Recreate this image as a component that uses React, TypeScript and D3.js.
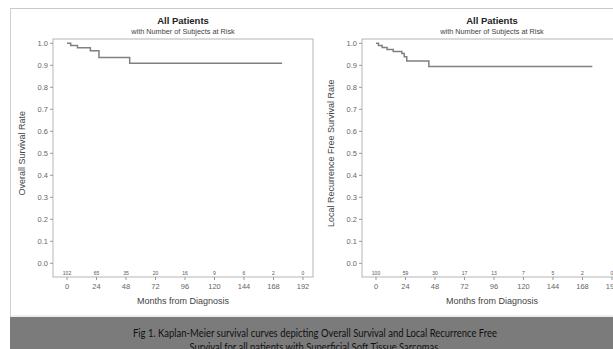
import React from "react";
import * as d3 from "d3";

const xTicks = [0, 24, 48, 72, 96, 120, 144, 168, 192];
const yTicks = [0, 0.1, 0.2, 0.3, 0.4, 0.5, 0.6, 0.7, 0.8, 0.9, 1.0];

// Overall survival: [month, survival]
const osTimes = [0, 3, 8.5, 19, 26, 51, 175];
const osValues = [1.0, 0.99, 0.98, 0.966, 0.936, 0.909, 0.909];
const osAtRisk = [102, 65, 35, 20, 16, 9, 6, 2, 0];

// Local recurrence free survival
const lrfsTimes = [0, 2, 5, 9, 14, 21, 23, 25, 43, 176];
const lrfsValues = [1.0, 0.99, 0.981, 0.972, 0.963, 0.954, 0.939, 0.92, 0.894, 0.894];
const lrfsAtRisk = [100, 59, 30, 17, 13, 7, 5, 2, 0];

const titleText = "All Patients";
const subtitleText = "with Number of Subjects at Risk";
const xLabelText = "Months from Diagnosis";
const captionLine1 = "Fig 1. Kaplan-Meier survival curves depicting Overall Survival  and Local Recurrence Free";
const captionLine2 = "Survival for all patients with Superficial Soft Tissue Sarcomas.";

const FONT = "Liberation Sans, Arial, sans-serif";

type PanelProps = {
  left: number;
  times: number[];
  values: number[];
  atRisk: number[];
  yLabel: string;
};

function Panel({ left, times, values, atRisk, yLabel }: PanelProps) {
  const boxL = left;
  const boxR = left + 260;
  const boxT = 39;
  const boxB = 277;
  const x = d3.scaleLinear().domain([0, 192]).range([left + 14, left + 250]);
  const y = d3.scaleLinear().domain([0, 1]).range([263.3, 43.3]);
  const pts = times.map((t, i) => [t, values[i]] as [number, number]);
  const line = d3
    .line<[number, number]>()
    .x((d) => x(d[0]))
    .y((d) => y(d[1]))
    .curve(d3.curveStepAfter);
  const cx = (boxL + boxR) / 2;
  return (
    <g>
      <text x={cx} y={24} textAnchor="middle" fontFamily={FONT} fontWeight="bold" fontSize={9.5} fill="#222">
        {titleText}
      </text>
      <text x={cx} y={34} textAnchor="middle" fontFamily={FONT} fontSize={7.3} fill="#444">
        {subtitleText}
      </text>
      <rect x={boxL} y={boxT} width={boxR - boxL} height={boxB - boxT} fill="none" stroke="#b5b5b5" strokeWidth={1} />
      {yTicks.map((t) => (
        <g key={"y" + t}>
          <line x1={boxL - 3} x2={boxL} y1={y(t)} y2={y(t)} stroke="#999" />
          <text x={boxL - 5} y={y(t) + 2.6} textAnchor="end" fontFamily={FONT} fontSize={7.5} fill="#666">
            {t.toFixed(1)}
          </text>
        </g>
      ))}
      {xTicks.map((t, i) => (
        <g key={"x" + t}>
          <line x1={x(t)} x2={x(t)} y1={boxB} y2={boxB + 3} stroke="#999" />
          <text x={x(t)} y={289} textAnchor="middle" fontFamily={FONT} fontSize={7.5} fill="#666">
            {t}
          </text>
          <text x={x(t)} y={274.5} textAnchor="middle" fontFamily={FONT} fontSize={5} fill="#555">
            {atRisk[i]}
          </text>
        </g>
      ))}
      <text x={cx} y={304} textAnchor="middle" fontFamily={FONT} fontSize={9} fill="#444">
        {xLabelText}
      </text>
      <text
        transform={`translate(${left - 28},${(y(0) + y(1)) / 2}) rotate(-90)`}
        textAnchor="middle"
        fontFamily={FONT}
        fontSize={9}
        fill="#444"
      >
        {yLabel}
      </text>
      <path d={line(pts) || ""} fill="none" stroke="#808080" strokeWidth={1.5} />
    </g>
  );
}

export default function App() {
  return (
    <svg
      width={613}
      height={349}
      style={{ position: "absolute", left: 0, top: 0, background: "#fff" }}
    >
      <rect x={0} y={0} width={613} height={349} fill="#fff" />
      <line x1={10} x2={613} y1={8.5} y2={8.5} stroke="#c8c8c8" />
      <line x1={10.5} x2={10.5} y1={8} y2={317} stroke="#d0d0d0" />
      <Panel left={53} times={osTimes} values={osValues} atRisk={osAtRisk} yLabel="Overall Survival Rate" />
      <Panel
        left={362}
        times={lrfsTimes}
        values={lrfsValues}
        atRisk={lrfsAtRisk}
        yLabel="Local Recurrence Free Survival Rate"
      />
      <line x1={10} x2={613} y1={316} y2={316} stroke="#dcdcdc" />
      <rect x={10} y={317} width={603} height={32} fill="#7b7b7b" />
      <text x={315} y={336.5} textAnchor="middle" fontFamily="Lato, Open Sans, sans-serif" fontSize={11} fill="#111" textLength={364} lengthAdjust="spacingAndGlyphs">
        {captionLine1}
      </text>
      <text x={315} y={350.5} textAnchor="middle" fontFamily="Lato, Open Sans, sans-serif" fontSize={11} fill="#111" textLength={251} lengthAdjust="spacingAndGlyphs">
        {captionLine2}
      </text>
    </svg>
  );
}
